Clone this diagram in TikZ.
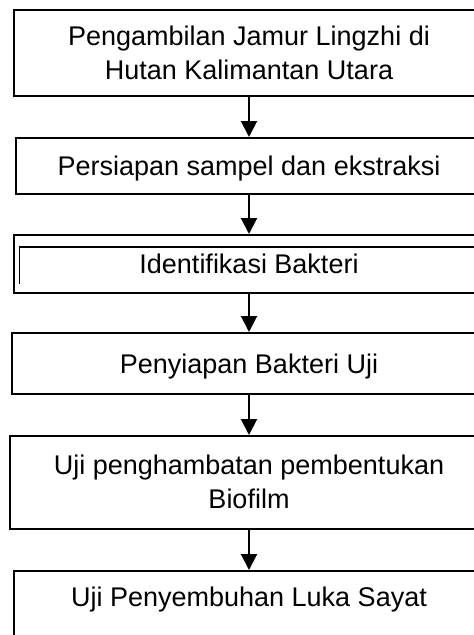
\documentclass[tikz,border=0pt]{standalone}
\usepackage{fontspec}
\setmainfont{Liberation Sans}
\usetikzlibrary{arrows.meta}
\begin{document}
\begin{tikzpicture}[x=1pt,y=-1pt,
  box/.style={draw, line width=1.5pt, rectangle, align=center, inner sep=0pt,
    font=\fontsize{27}{34}\selectfont, anchor=north},
  oneline/.style={text height=20pt, text depth=0pt},
  arr/.style={-{Triangle[width=16pt,length=16pt]}, line width=2pt}]
\useasboundingbox (0,0) rectangle (474,635);
\fill[white] (0,0) rectangle (474,635);
\clip (0,0) rectangle (474,635);
\node[box, minimum width=470pt, minimum height=86pt] (b1) at (249,9)
  {Pengambilan Jamur Lingzhi di\\Hutan Kalimantan Utara};
\node[box, oneline, minimum width=466pt, minimum height=56pt] (b2) at (249,137)
  {Persiapan sampel dan ekstraksi};
\node[box, oneline, minimum width=470pt, minimum height=58pt] (b3) at (249,234)
  {Identifikasi Bakteri};
\node[box, oneline, minimum width=474pt, minimum height=61pt] (b4) at (249,332)
  {Penyiapan Bakteri Uji};
\node[box, minimum width=478pt, minimum height=93pt] (b5) at (249,435)
  {Uji penghambatan pembentukan\\Biofilm};
\node[box, oneline, minimum width=470pt, minimum height=80pt, text depth=28pt] (b6) at (249,570)
  {Uji Penyembuhan Luka Sayat};
% inner line of the double-bordered box
\draw[line width=1.5pt] ([xshift=6pt,yshift=10pt]b3.south west)
  |- ([yshift=-13pt]b3.north east);
\draw[arr] (b1) -- (b2);
\draw[arr] (b2) -- (b3);
\draw[arr] (b3) -- (b4);
\draw[arr] (b4) -- (b5);
\draw[arr] (b5) -- (b6);
\end{tikzpicture}
\end{document}
